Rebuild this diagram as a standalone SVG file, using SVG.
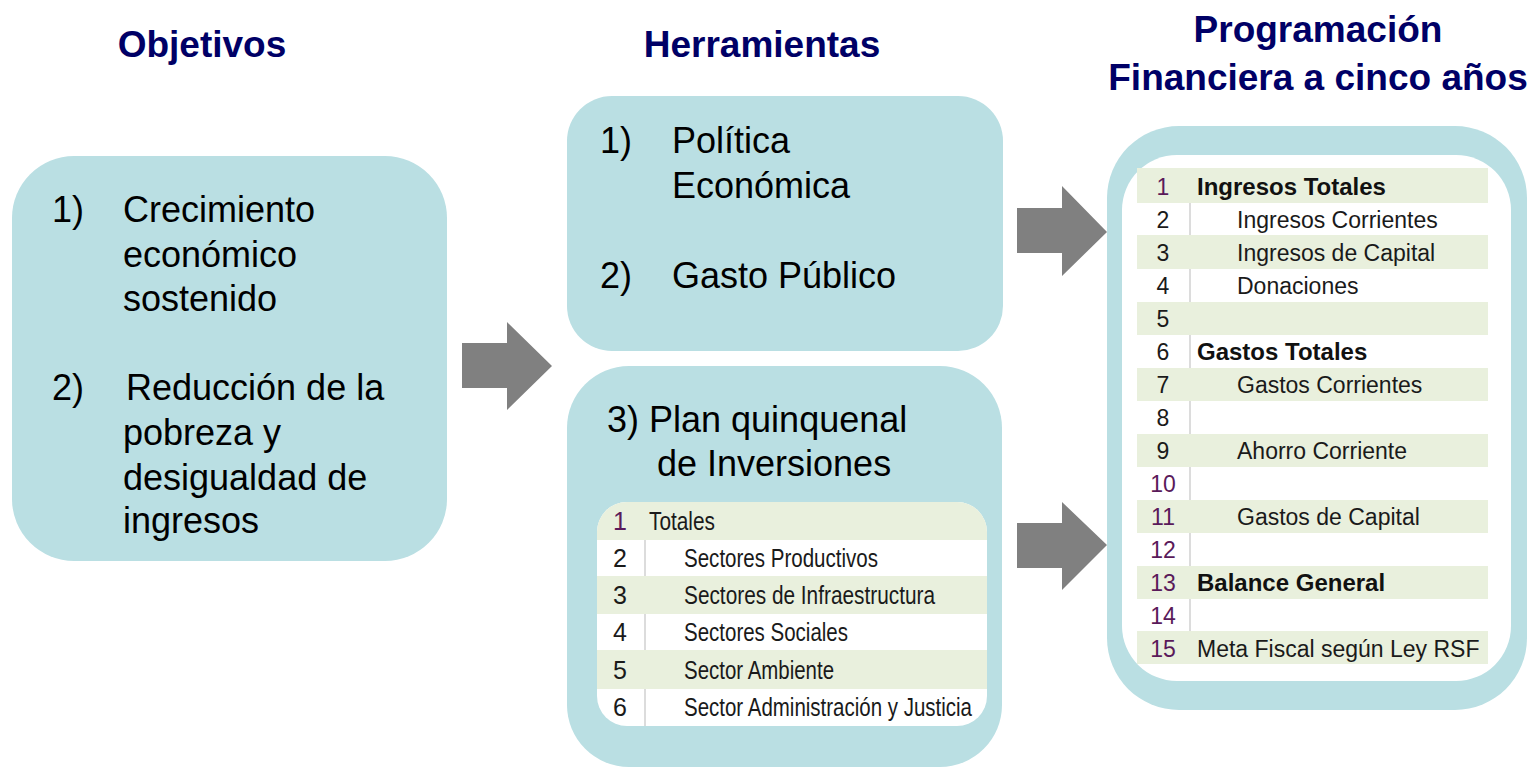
<svg xmlns="http://www.w3.org/2000/svg" width="1530" height="768" viewBox="0 0 1530 768">
<style>
.box{fill:#BADFE3}
.title{font-family:"Liberation Sans",Arial,sans-serif;font-weight:bold;font-size:37px;fill:#000066}
.big{font-family:"Liberation Sans",Arial,sans-serif;font-size:36px;fill:#000}
.nar{font-family:"Liberation Sans",Arial,sans-serif;font-size:25px;fill:#1a1a1a}
.tb{font-family:"Liberation Sans",Arial,sans-serif;font-size:23px;fill:#1a1a1a}
.tbb{font-family:"Liberation Sans",Arial,sans-serif;font-size:24px;font-weight:bold;fill:#111}
.pur{fill:#5a1a5a}
.g{fill:#E9F0DD}
.sep{stroke:#dcdcdc;stroke-width:2}
.arrow{fill:#808080}
</style>
<defs>
<clipPath id="lt"><rect x="597" y="502" width="390" height="224" rx="30"/></clipPath>
</defs>
<rect width="1530" height="768" fill="#fff"/>

<g id="titles">
<text class="title" x="202" y="57" text-anchor="middle">Objetivos</text>
<text class="title" x="762" y="57" text-anchor="middle">Herramientas</text>
<text class="title" x="1318" y="42" text-anchor="middle">Programación</text>
<text class="title" x="1318" y="90" text-anchor="middle">Financiera a cinco años</text>
</g>

<g id="objetivos">
<rect class="box" x="12" y="156" width="435" height="405" rx="62"/>
<text class="big" x="52" y="222">1)</text>
<text class="big" x="123" y="222">Crecimiento</text>
<text class="big" x="123" y="267">económico</text>
<text class="big" x="123" y="311">sostenido</text>
<text class="big" x="52" y="400">2)</text>
<text class="big" x="126" y="400">Reducción de la</text>
<text class="big" x="123" y="445">pobreza y</text>
<text class="big" x="123" y="490">desigualdad de</text>
<text class="big" x="123" y="533">ingresos</text>
</g>

<g id="herramientas1">
<rect class="box" x="567" y="96" width="436" height="255" rx="45"/>
<text class="big" x="600" y="153">1)</text>
<text class="big" x="672" y="153">Política</text>
<text class="big" x="672" y="198">Económica</text>
<text class="big" x="600" y="288">2)</text>
<text class="big" x="672" y="288">Gasto Público</text>
</g>

<g id="herramientas2">
<rect class="box" x="567" y="366" width="435" height="401" rx="62"/>
<text class="big" x="607" y="432">3) Plan quinquenal</text>
<text class="big" x="657" y="476">de Inversiones</text>
<g clip-path="url(#lt)">
<rect x="597" y="502" width="390" height="224" fill="#fff"/>
<rect class="g" x="597" y="502" width="390" height="38"/>
<rect class="g" x="597" y="576" width="390" height="38"/>
<rect class="g" x="597" y="650" width="390" height="39"/>
<line class="sep" x1="645" y1="540" x2="645" y2="576"/>
<line class="sep" x1="645" y1="614" x2="645" y2="650"/>
<line class="sep" x1="645" y1="689" x2="645" y2="726"/>
</g>
<text class="nar pur" x="620" y="530" text-anchor="middle">1</text>
<text class="nar" x="649" y="530" textLength="66" lengthAdjust="spacingAndGlyphs">Totales</text>
<text class="nar" x="620" y="567" text-anchor="middle">2</text>
<text class="nar" x="684" y="567" textLength="194" lengthAdjust="spacingAndGlyphs">Sectores Productivos</text>
<text class="nar" x="620" y="604" text-anchor="middle">3</text>
<text class="nar" x="684" y="604" textLength="251" lengthAdjust="spacingAndGlyphs">Sectores de Infraestructura</text>
<text class="nar" x="620" y="641" text-anchor="middle">4</text>
<text class="nar" x="684" y="641" textLength="164" lengthAdjust="spacingAndGlyphs">Sectores Sociales</text>
<text class="nar" x="620" y="679" text-anchor="middle">5</text>
<text class="nar" x="684" y="679" textLength="150" lengthAdjust="spacingAndGlyphs">Sector Ambiente</text>
<text class="nar" x="620" y="716" text-anchor="middle">6</text>
<text class="nar" x="684" y="716" textLength="288" lengthAdjust="spacingAndGlyphs">Sector Administración y Justicia</text>
</g>

<g id="programacion">
<rect class="box" x="1107" y="126" width="420" height="584" rx="72"/>
<rect x="1122" y="155" width="389" height="526" rx="55" fill="#fff"/>
<rect class="g" x="1137" y="168" width="351" height="35"/>
<rect class="g" x="1137" y="235" width="351" height="34"/>
<rect class="g" x="1137" y="302" width="351" height="33"/>
<rect class="g" x="1137" y="368" width="351" height="33"/>
<rect class="g" x="1137" y="434" width="351" height="33"/>
<rect class="g" x="1137" y="500" width="351" height="33"/>
<rect class="g" x="1137" y="566" width="351" height="33"/>
<rect class="g" x="1137" y="631" width="351" height="33"/>
<line class="sep" x1="1190" y1="203" x2="1190" y2="235"/>
<line class="sep" x1="1190" y1="269" x2="1190" y2="302"/>
<line class="sep" x1="1190" y1="335" x2="1190" y2="368"/>
<line class="sep" x1="1190" y1="401" x2="1190" y2="434"/>
<line class="sep" x1="1190" y1="467" x2="1190" y2="500"/>
<line class="sep" x1="1190" y1="533" x2="1190" y2="566"/>
<line class="sep" x1="1190" y1="599" x2="1190" y2="631"/>
<text class="tb pur" x="1163" y="195" text-anchor="middle">1</text>
<text class="tbb" x="1197" y="195">Ingresos Totales</text>
<text class="tb" x="1163" y="228" text-anchor="middle">2</text>
<text class="tb" x="1237" y="228">Ingresos Corrientes</text>
<text class="tb" x="1163" y="261" text-anchor="middle">3</text>
<text class="tb" x="1237" y="261">Ingresos de Capital</text>
<text class="tb" x="1163" y="294" text-anchor="middle">4</text>
<text class="tb" x="1237" y="294">Donaciones</text>
<text class="tb" x="1163" y="327" text-anchor="middle">5</text>
<text class="tb" x="1163" y="360" text-anchor="middle">6</text>
<text class="tbb" x="1197" y="360">Gastos Totales</text>
<text class="tb" x="1163" y="393" text-anchor="middle">7</text>
<text class="tb" x="1237" y="393">Gastos Corrientes</text>
<text class="tb" x="1163" y="426" text-anchor="middle">8</text>
<text class="tb" x="1163" y="459" text-anchor="middle">9</text>
<text class="tb" x="1237" y="459">Ahorro Corriente</text>
<text class="tb pur" x="1163" y="492" text-anchor="middle">10</text>
<text class="tb pur" x="1163" y="525" text-anchor="middle">11</text>
<text class="tb" x="1237" y="525">Gastos de Capital</text>
<text class="tb pur" x="1163" y="558" text-anchor="middle">12</text>
<text class="tb pur" x="1163" y="591" text-anchor="middle">13</text>
<text class="tbb" x="1197" y="591">Balance General</text>
<text class="tb pur" x="1163" y="624" text-anchor="middle">14</text>
<text class="tb pur" x="1163" y="657" text-anchor="middle">15</text>
<text class="tb" x="1197" y="657">Meta Fiscal según Ley RSF</text>
</g>

<g id="connectors">
<polygon class="arrow" points="462,343 507,343 507,322 552,366 507,410 507,388 462,388"/>
<polygon class="arrow" points="1017,208 1062,208 1062,186 1107,232 1062,276 1062,253 1017,253"/>
<polygon class="arrow" points="1017,523 1062,523 1062,502 1107,545 1062,590 1062,568 1017,568"/>
</g>
</svg>
